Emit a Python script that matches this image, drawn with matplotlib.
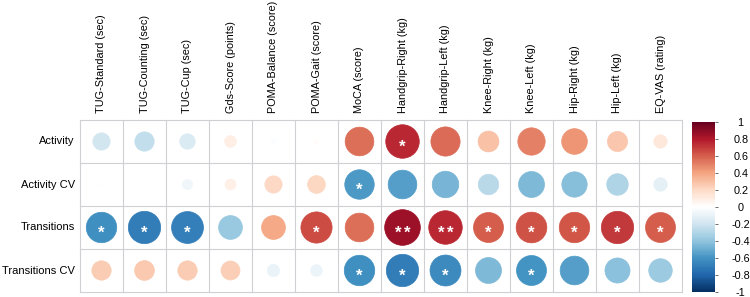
import numpy as np
import matplotlib
matplotlib.use("Agg")
import matplotlib.pyplot as plt
from matplotlib.colors import LinearSegmentedColormap, Normalize
from matplotlib.patches import Circle
from matplotlib.collections import PatchCollection

plt.rcParams['font.family'] = ['Liberation Sans', 'DejaVu Sans']

columns = ["TUG-Standard (sec)", "TUG-Counting (sec)", "TUG-Cup (sec)", "Gds-Score (points)",
           "POMA-Balance (score)", "POMA-Gait (score)", "MoCA (score)", "Handgrip-Right (kg)",
           "Handgrip-Left (kg)", "Knee-Right (kg)", "Knee-Left (kg)", "Hip-Right (kg)",
           "Hip-Left (kg)", "EQ-VAS (rating)"]
rows = ["Activity", "Activity CV", "Transitions", "Transitions CV"]

activity = [-0.20, -0.25, -0.16, 0.09, -0.02, 0.01, 0.55, 0.75, 0.57, 0.29, 0.50, 0.44, 0.27, 0.12]
activity_cv = [-0.01, -0.01, -0.07, 0.08, 0.20, 0.21, -0.58, -0.55, -0.47, -0.28, -0.45, -0.43, -0.31, -0.12]
transitions = [-0.62, -0.70, -0.68, -0.38, 0.38, 0.65, 0.55, 0.85, 0.75, 0.60, 0.63, 0.62, 0.70, 0.60]
transitions_cv = [0.25, 0.26, 0.25, 0.24, -0.10, -0.09, -0.62, -0.70, -0.64, -0.45, -0.60, -0.55, -0.42, -0.37]

sig_activity = ["", "", "", "", "", "", "", "*", "", "", "", "", "", ""]
sig_activity_cv = ["", "", "", "", "", "", "*", "", "", "", "", "", "", ""]
sig_transitions = ["*", "*", "*", "", "", "*", "", "**", "**", "*", "*", "*", "*", "*"]
sig_transitions_cv = ["", "", "", "", "", "", "*", "*", "*", "", "*", "", "", ""]

values = np.array([activity, activity_cv, transitions, transitions_cv])
sigs = [sig_activity, sig_activity_cv, sig_transitions, sig_transitions_cv]

cbar_ticks = [1, 0.8, 0.6, 0.4, 0.2, 0, -0.2, -0.4, -0.6, -0.8, -1]

cmap = LinearSegmentedColormap.from_list(
    "corr", ["#053061", "#2166AC", "#4393C3", "#92C5DE", "#D1E5F0", "#FFFFFF",
             "#FDDBC7", "#F4A582", "#D6604D", "#B2182B", "#67001F"], N=200)
norm = Normalize(-1, 1)

W, H = 750, 297
fig = plt.figure(figsize=(W / 100, H / 100), dpi=100)
nr, nc = values.shape
ax = fig.add_axes([80 / W, (H - 292) / H, 602 / W, 172 / H])
ax.set_xlim(0, nc)
ax.set_ylim(nr, 0)

# grid
for i in range(nc + 1):
    ax.plot([i, i], [0, nr], color="#d0d0d4", lw=0.8, zorder=1, clip_on=False)
for j in range(nr + 1):
    ax.plot([0, nc], [j, j], color="#d0d0d4", lw=0.8, zorder=1, clip_on=False)

patches = []
colors = []
for r in range(nr):
    for c in range(nc):
        v = values[r, c]
        patches.append(Circle((c + 0.5, r + 0.5), 0.45 * np.sqrt(abs(v))))
        colors.append(cmap(norm(v)))
pc = PatchCollection(patches, facecolor=colors, edgecolor=colors, lw=0.5, zorder=2)
ax.add_collection(pc)

star_gap = 0.21
for r in range(nr):
    for c in range(nc):
        s = sigs[r][c]
        n = len(s)
        for k in range(n):
            dx = (k - (n - 1) / 2) * star_gap
            ax.text(c + 0.5 + dx, r + 0.63, "*", color="white", ha="center", va="center",
                    fontsize=12, fontweight="bold", zorder=3)

for s in ax.spines.values():
    s.set_visible(False)
ax.set_xticks([])
ax.set_yticks([])
for r, name in enumerate(rows):
    ax.text(-0.12, r + 0.5, name, ha="right", va="center", fontsize=8, color="black")
for c, name in enumerate(columns):
    ax.text(c + 0.5, -0.17, name, ha="center", va="bottom", rotation=90, fontsize=7.8, color="black")

# colorbar
cax = fig.add_axes([692 / W, (H - 292) / H, 23 / W, 170 / H])
sm = matplotlib.cm.ScalarMappable(norm=norm, cmap=cmap)
cb = fig.colorbar(sm, cax=cax, ticks=cbar_ticks)
cb.outline.set_visible(False)
cb.ax.set_yticklabels([("%g" % t) for t in cbar_ticks])
cb.ax.tick_params(axis="y", length=2.5, width=0.6, color="#555555", pad=16, labelsize=7.8)
for lab in cb.ax.get_yticklabels():
    lab.set_horizontalalignment("center")

fig.savefig("out.png", dpi=100)
